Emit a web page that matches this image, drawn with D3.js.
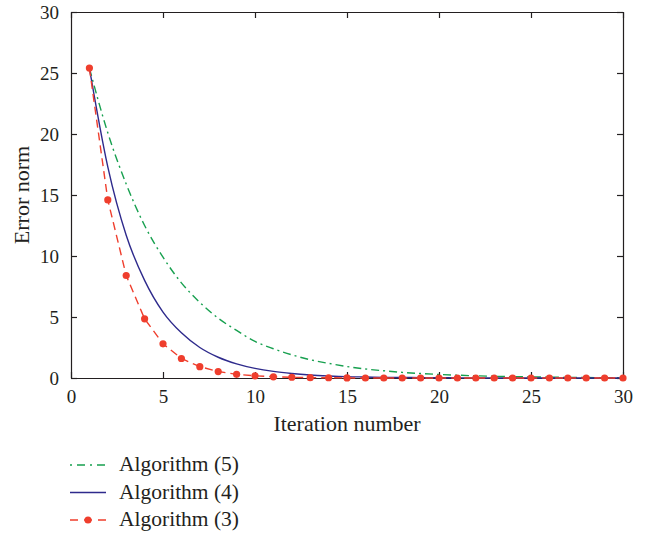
<!DOCTYPE html>
<html>
<head>
<meta charset="utf-8">
<script src="https://cdn.jsdelivr.net/npm/d3@7"></script>
<style>
  body { margin: 0; background: #fff; }
  text { font-family: "Liberation Serif", "DejaVu Serif", serif; fill: #231f20; }
</style>
</head>
<body>
<script>
// error norm per iteration
var iterations = d3.range(1, 31);
var algo5 = [25.4, 20.1, 15.9, 12.5, 9.9, 7.8, 6.2, 4.9, 3.9, 3.0, 2.4, 1.9, 1.5, 1.2, 0.94,
             0.74, 0.59, 0.46, 0.37, 0.29, 0.23, 0.18, 0.14, 0.11, 0.09, 0.07, 0.05, 0.04, 0.03, 0.03];
var algo4 = [25.4, 17.3, 11.7, 8.0, 5.4, 3.7, 2.5, 1.7, 1.16, 0.79, 0.54, 0.37, 0.25, 0.17, 0.11,
             0.08, 0.05, 0.04, 0.03, 0.02, 0.01, 0.01, 0, 0, 0, 0, 0, 0, 0, 0];
var algo3 = [25.4, 14.6, 8.4, 4.85, 2.8, 1.6, 0.93, 0.53, 0.3, 0.18, 0.1, 0.06, 0.03, 0.02, 0.01,
             0, 0, 0, 0, 0, 0, 0, 0, 0, 0, 0, 0, 0, 0, 0];
var xTicks = [0, 5, 10, 15, 20, 25, 30];
var yTicks = [0, 5, 10, 15, 20, 25, 30];
var legendNames = ["Algorithm (5)", "Algorithm (4)", "Algorithm (3)"];

var width = 654, height = 538;
var plotLeft = 71, plotRight = 623, plotTop = 12, plotBottom = 378;

var svg = d3.select("body").append("svg")
    .attr("width", width)
    .attr("height", height);

var x = d3.scaleLinear().domain([0, 30]).range([plotLeft, plotRight]);
var y = d3.scaleLinear().domain([0, 30]).range([plotBottom, plotTop]);

// axes, ticks pointing inward on all four sides
var axisColor = "#231f20";
function styleAxis(g) {
    g.select(".domain").attr("stroke", axisColor).attr("stroke-width", 1.2);
    g.selectAll(".tick line").attr("stroke", axisColor).attr("stroke-width", 1.2);
    g.selectAll("text").attr("font-family", "Liberation Serif").attr("font-size", 19).attr("fill", axisColor);
}

svg.append("g").attr("transform", "translate(0," + plotBottom + ")")
    .call(d3.axisBottom(x).tickValues(xTicks).tickSizeInner(-6).tickSizeOuter(0).tickPadding(12))
    .call(styleAxis);
svg.append("g").attr("transform", "translate(0," + plotTop + ")")
    .call(d3.axisTop(x).tickValues(xTicks).tickSizeInner(-6).tickSizeOuter(0).tickFormat(""))
    .call(styleAxis);
svg.append("g").attr("transform", "translate(" + plotLeft + ",0)")
    .call(d3.axisLeft(y).tickValues(yTicks).tickSizeInner(-6).tickSizeOuter(0).tickPadding(12))
    .call(styleAxis);
svg.append("g").attr("transform", "translate(" + plotRight + ",0)")
    .call(d3.axisRight(y).tickValues(yTicks).tickSizeInner(-6).tickSizeOuter(0).tickFormat(""))
    .call(styleAxis);

// axis titles
svg.append("text")
    .attr("x", (plotLeft + plotRight) / 2)
    .attr("y", 431)
    .attr("text-anchor", "middle")
    .attr("font-size", 22)
    .text("Iteration number");

svg.append("text")
    .attr("transform", "translate(29," + ((plotTop + plotBottom) / 2) + ") rotate(-90)")
    .attr("text-anchor", "middle")
    .attr("font-size", 22)
    .text("Error norm");

var series = [
    { name: legendNames[0], values: algo5, color: "#17a04f", dash: "8,4,2,4", dots: false, curve: d3.curveMonotoneX },
    { name: legendNames[1], values: algo4, color: "#2e2a8c", dash: null, dots: false, curve: d3.curveMonotoneX },
    { name: legendNames[2], values: algo3, color: "#ef3e2d", dash: "8,5", dots: true, curve: d3.curveLinear }
];

series.forEach(function(s) {
    var line = d3.line()
        .x(function(d, i) { return x(iterations[i]); })
        .y(function(d) { return y(d); })
        .curve(s.curve);

    svg.append("path")
        .datum(s.values)
        .attr("fill", "none")
        .attr("stroke", s.color)
        .attr("stroke-width", 1.4)
        .attr("stroke-dasharray", s.dash)
        .attr("d", line);

    if (s.dots) {
        svg.append("g").selectAll("circle")
            .data(s.values)
            .enter().append("circle")
            .attr("cx", function(d, i) { return x(iterations[i]); })
            .attr("cy", function(d) { return y(d); })
            .attr("r", 3.6)
            .attr("fill", s.color);
    }
});

// legend
var legend = svg.append("g");
series.forEach(function(s, i) {
    var ly = 465 + i * 27.5;
    legend.append("line")
        .attr("x1", 70).attr("x2", 106)
        .attr("y1", ly).attr("y2", ly)
        .attr("stroke", s.color)
        .attr("stroke-width", 1.4)
        .attr("stroke-dasharray", s.dash ? (s.dots ? "8,6" : "2,5,8,5") : null);
    if (s.dots) {
        legend.append("circle").attr("cx", 88).attr("cy", ly).attr("r", 3.6).attr("fill", s.color);
    }
    legend.append("text")
        .attr("x", 119)
        .attr("y", ly + 6)
        .attr("font-size", 21.5)
        .text(s.name);
});
</script>
</body>
</html>
